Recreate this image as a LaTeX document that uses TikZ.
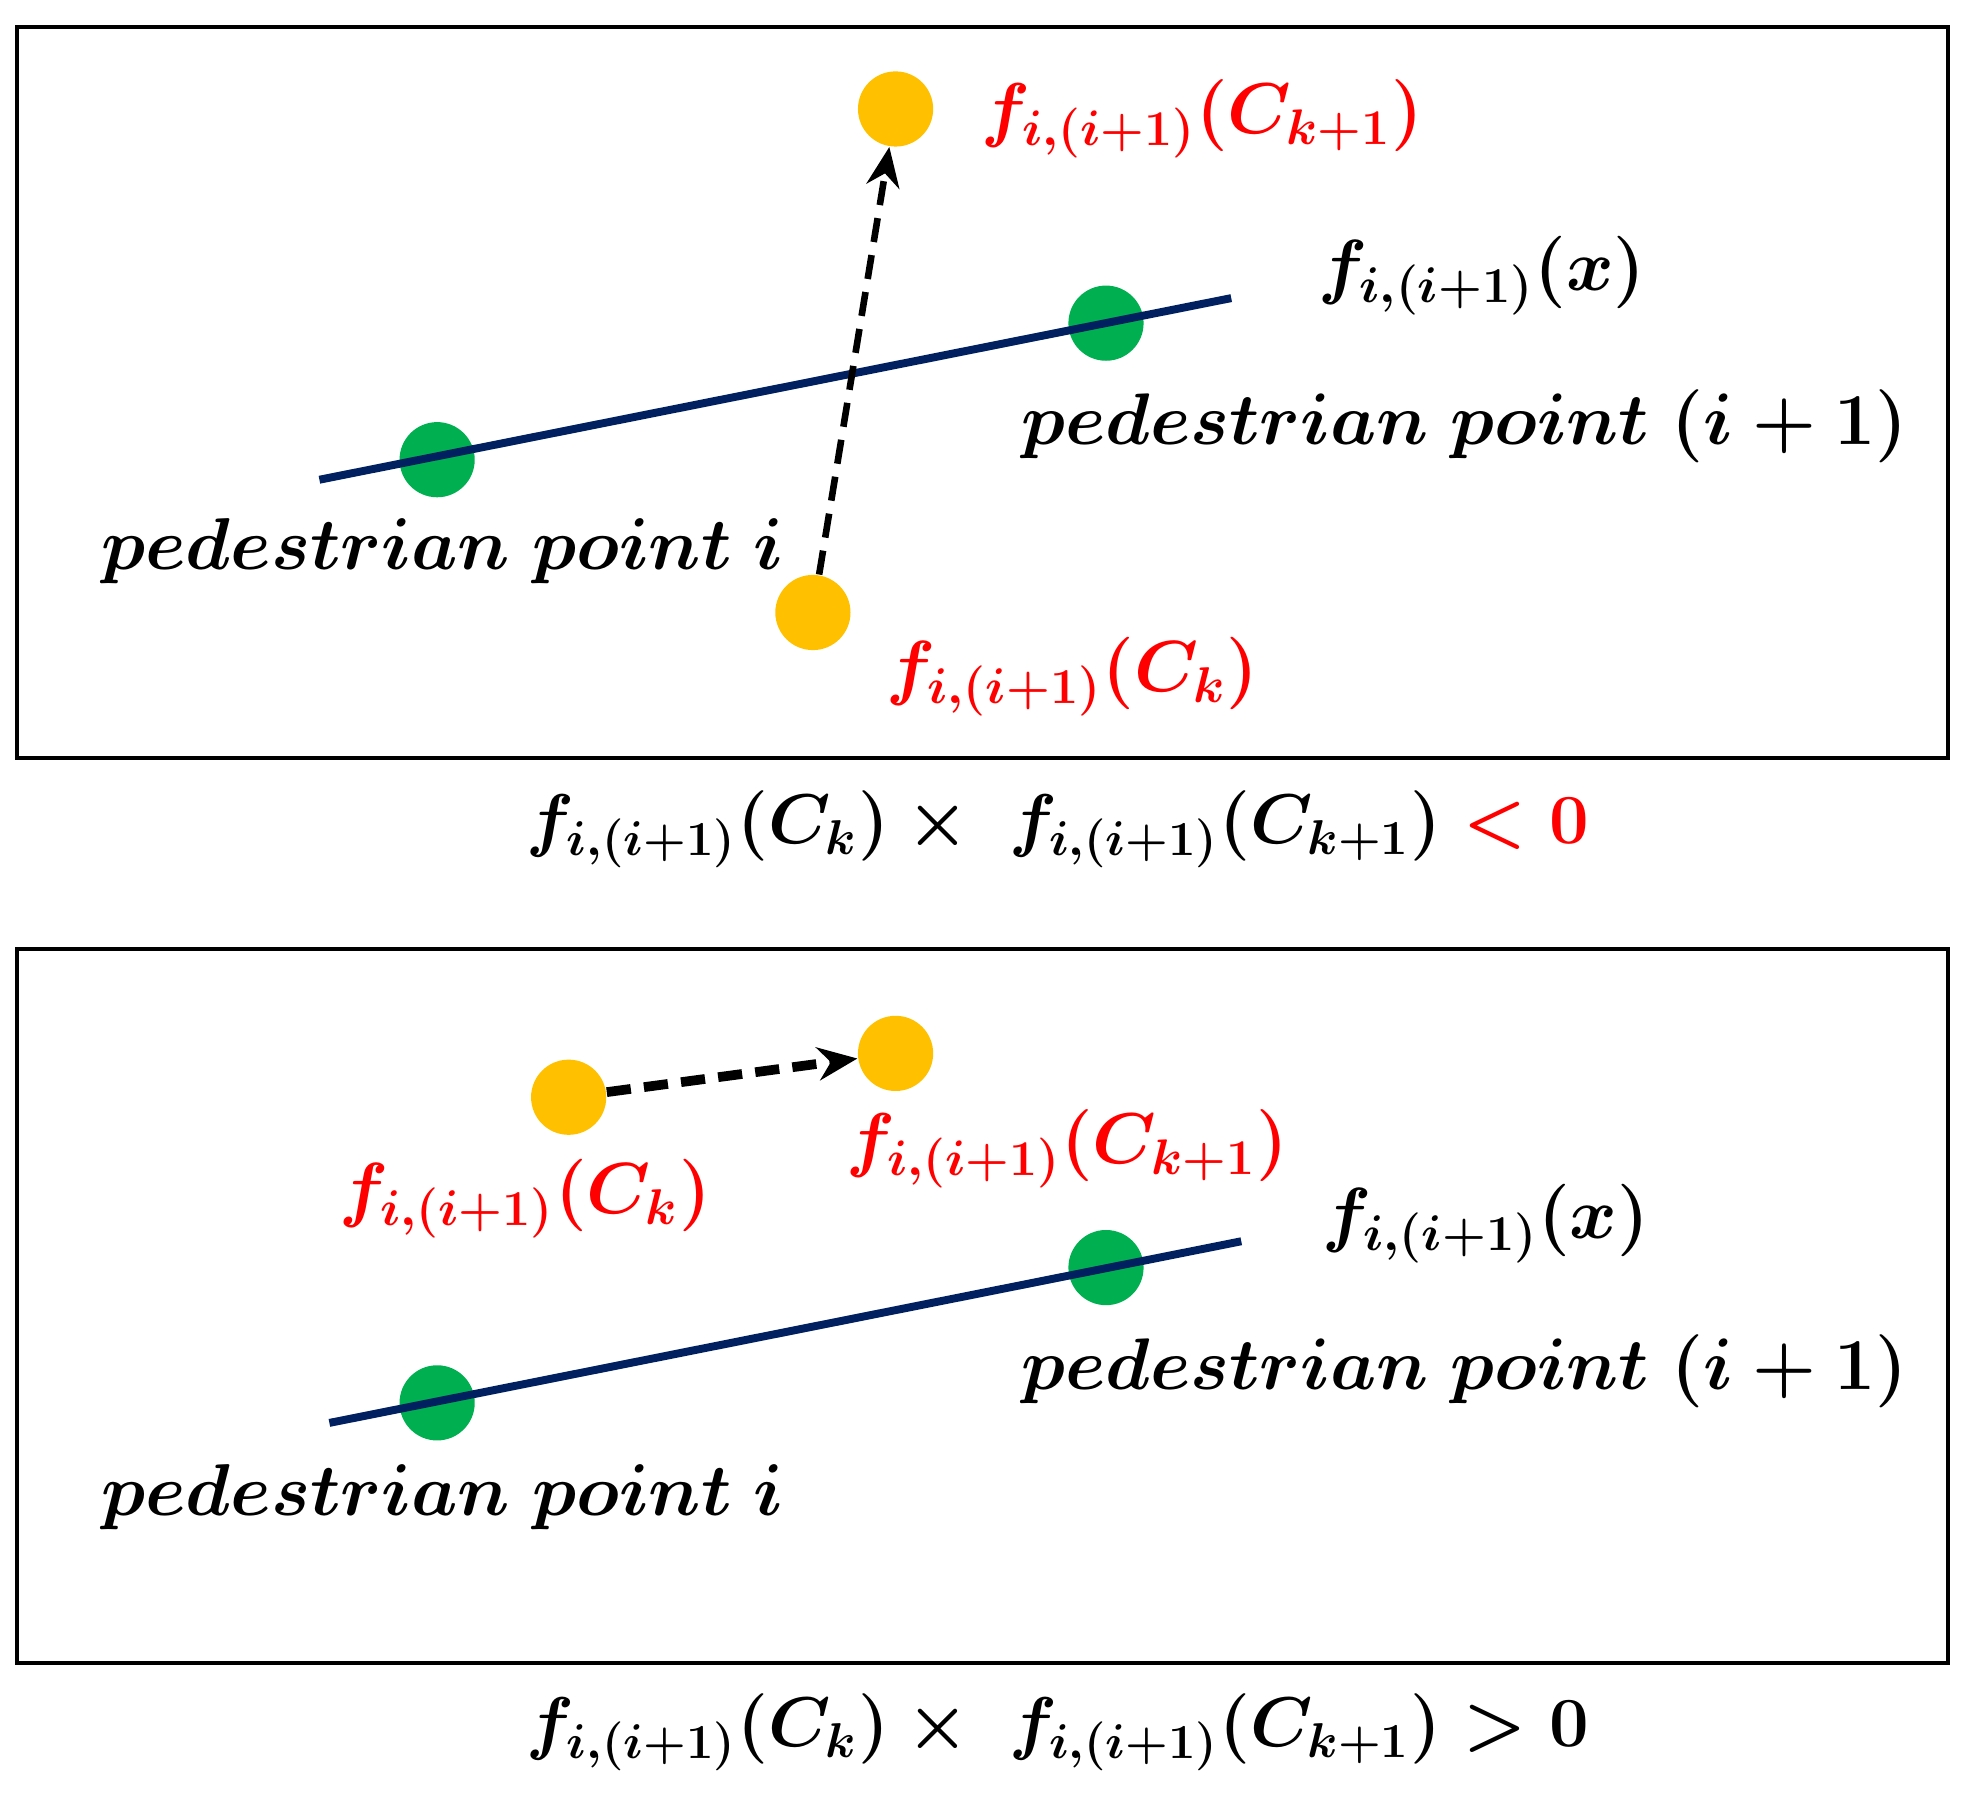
\documentclass[tikz,border=0pt]{standalone}
\usepackage{amsmath,bm}
\usetikzlibrary{arrows.meta}
\definecolor{navyline}{RGB}{0,32,96}
\definecolor{dotgreen}{RGB}{0,176,80}
\definecolor{dotyellow}{RGB}{255,192,0}
\tikzset{
  panel/.style={draw=black,line width=0.9pt},
  ydot/.style={circle,fill=dotyellow,minimum size=0.6cm,inner sep=0pt},
  gdot/.style={circle,fill=dotgreen,minimum size=0.6cm,inner sep=0pt},
  fline/.style={navyline,line width=1.8pt},
  dasharrow/.style={dashed,dash pattern=on 5.5pt off 3pt,line width=1.5pt,-{Stealth[length=9pt,width=7.5pt]}},
  lbl/.style={inner sep=0pt,anchor=west,font=\LARGE\boldmath},
  redlbl/.style={lbl,text=red},
}
\newcommand{\sz}[2]{\scalebox{#1}{#2}}
\begin{document}
\begin{tikzpicture}[x=0.01cm,y=-0.01cm]
\useasboundingbox (0,0) rectangle (1568,1445);
% ---------- top panel ----------
\node[panel,minimum width=15.41cm,minimum height=5.83cm,anchor=north west,inner sep=0pt] (box1) at (12,20) {};
\node[ydot] (ck1a) at (715,87) {};
\node[ydot] (cka) at (649,489) {};
\node[gdot] (pia) at (349,367) {};
\node[gdot] (pja) at (883,258) {};
\coordinate (la1) at (255,383);
\coordinate (la2) at (983,238);
\draw[fline] (la1) -- (la2);
\draw[dasharrow] (cka) -- (ck1a);
\node[redlbl] (tck1a) at (783,95) {\sz{0.945}{$f_{i,(i+1)}(C_{k+1})$}};
\node[lbl] (tfxa) at (1052,220) {\sz{0.95}{$f_{i,(i+1)}(x)$}};
\node[lbl] (tpja) at (815,340) {\sz{0.96}{$pedestrian\ point\ (i+1)$}};
\node[lbl] (tpia) at (80,440) {\sz{0.965}{$pedestrian\ point\ i$}};
\node[redlbl] (tcka) at (707,540) {\sz{0.95}{$f_{i,(i+1)}(C_k)$}};
\node[lbl] (eq1) at (420,662) {\sz{0.925}{$f_{i,(i+1)}(C_k)\times\ f_{i,(i+1)}(C_{k+1})\mathrel{\textcolor{red}{<}}\textcolor{red}{0}$}};
% ---------- bottom panel ----------
\node[panel,minimum width=15.41cm,minimum height=5.70cm,anchor=north west,inner sep=0pt] (box2) at (12,756) {};
\node[ydot] (ckb) at (454,876) {};
\node[ydot] (ck1b) at (715,841) {};
\draw[dasharrow,line width=2.2pt] (ckb) -- (ck1b);
\node[gdot] (pib) at (349,1120) {};
\node[gdot] (pjb) at (883,1012) {};
\coordinate (lb1) at (263,1136);
\coordinate (lb2) at (991,991);
\draw[fline] (lb1) -- (lb2);
\node[redlbl] (tckb) at (270,957) {\sz{0.95}{$f_{i,(i+1)}(C_k)$}};
\node[redlbl] (tck1b) at (675,917) {\sz{0.945}{$f_{i,(i+1)}(C_{k+1})$}};
\node[lbl] (tfxb) at (1055,977) {\sz{0.95}{$f_{i,(i+1)}(x)$}};
\node[lbl] (tpjb) at (815,1095) {\sz{0.96}{$pedestrian\ point\ (i+1)$}};
\node[lbl] (tpib) at (80,1195) {\sz{0.965}{$pedestrian\ point\ i$}};
\node[lbl] (eq2) at (420,1383) {\sz{0.925}{$f_{i,(i+1)}(C_k)\times\ f_{i,(i+1)}(C_{k+1})>0$}};
\end{tikzpicture}
\end{document}
